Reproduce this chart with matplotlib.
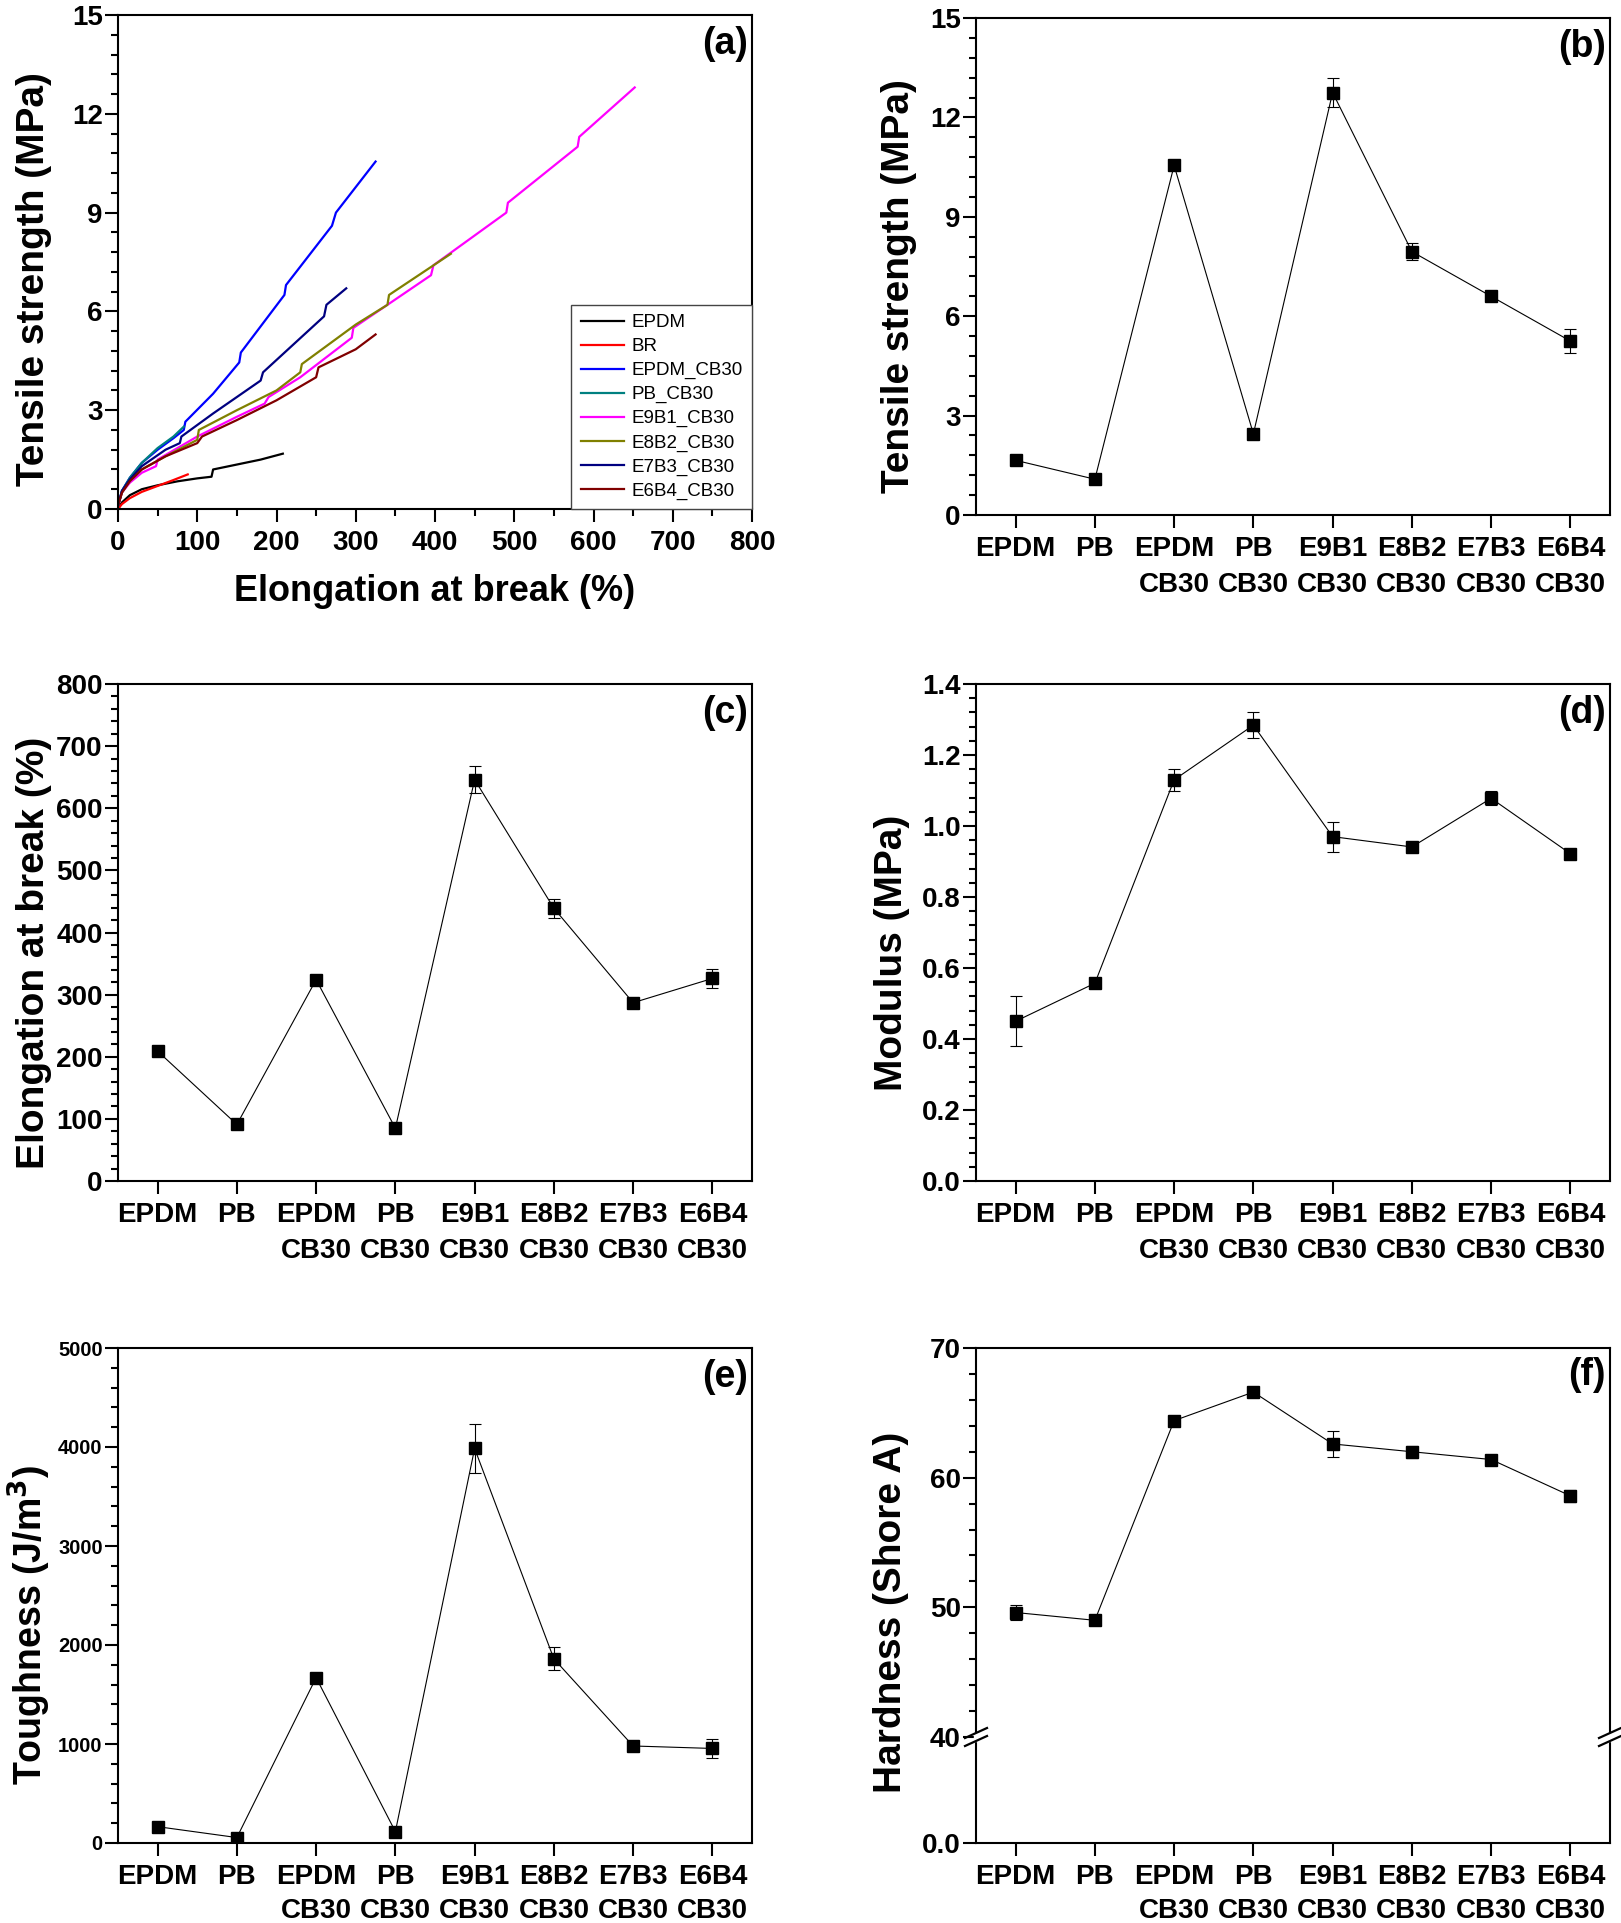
import matplotlib
matplotlib.use("Agg")
import matplotlib.pyplot as plt
from matplotlib.ticker import AutoMinorLocator
import numpy as np

# ---------------- data ----------------
samples = ["EPDM", "PB", "EPDM\nCB30", "PB\nCB30", "E9B1\nCB30", "E8B2\nCB30", "E7B3\nCB30", "E6B4\nCB30"]

tensile = [1.65, 1.08, 10.55, 2.45, 12.75, 7.95, 6.60, 5.25]
tensile_err = [0.08, 0.06, 0.15, 0.15, 0.45, 0.25, 0.08, 0.35]

elong = [209, 91, 324, 85, 646, 439, 287, 326]
elong_err = [6, 5, 6, 5, 22, 15, 5, 16]

modulus = [0.450, 0.557, 1.130, 1.284, 0.970, 0.941, 1.078, 0.922]
modulus_err = [0.07, 0.005, 0.03, 0.037, 0.042, 0.01, 0.02, 0.01]

tough = [165, 55, 1670, 115, 3985, 1860, 980, 955]
tough_err = [20, 10, 30, 15, 250, 115, 25, 95]

hard = [49.6, 49.0, 64.4, 66.6, 62.6, 62.0, 61.4, 58.6]
hard_err = [0.55, 0.2, 0.35, 0.25, 1.0, 0.45, 0.35, 0.45]

# stress-strain curves (elongation %, stress MPa) for panel (a)
curve_names = ["EPDM", "BR", "EPDM_CB30", "PB_CB30", "E9B1_CB30", "E8B2_CB30", "E7B3_CB30", "E6B4_CB30"]
curve_colors = ["#000000", "#FF0000", "#0000FF", "#008080", "#FF00FF", "#808000", "#000080", "#800000"]
epdm_x = [0, 5, 15, 30, 50, 75, 100, 118, 120, 150, 180, 208]
epdm_y = [0, 0.2, 0.42, 0.6, 0.72, 0.84, 0.93, 0.98, 1.2, 1.35, 1.5, 1.68]
br_x = [0, 5, 15, 30, 50, 70, 88]
br_y = [0, 0.15, 0.33, 0.52, 0.7, 0.88, 1.05]
epdmcb_x = [0, 5, 15, 30, 50, 70, 83, 85, 120, 153, 155, 210, 212, 270, 275, 325]
epdmcb_y = [0.1, 0.55, 0.95, 1.4, 1.8, 2.15, 2.4, 2.65, 3.5, 4.45, 4.75, 6.5, 6.8, 8.6, 9.0, 10.55]
pbcb_x = [0, 5, 15, 30, 50, 70, 83]
pbcb_y = [0.1, 0.55, 0.95, 1.4, 1.85, 2.2, 2.5]
e9b1_x = [0, 5, 15, 30, 48, 50, 100, 150, 185, 190, 230, 295, 297, 340, 395, 398, 490, 492, 580, 582, 652]
e9b1_y = [0.1, 0.5, 0.8, 1.1, 1.3, 1.5, 2.2, 2.8, 3.2, 3.4, 4.0, 5.2, 5.5, 6.2, 7.1, 7.4, 9.0, 9.3, 11.0, 11.3, 12.8]
e8b2_x = [0, 5, 15, 30, 60, 100, 102, 150, 200, 230, 232, 300, 340, 342, 420]
e8b2_y = [0.1, 0.5, 0.85, 1.2, 1.6, 2.1, 2.4, 3.0, 3.6, 4.15, 4.4, 5.6, 6.2, 6.5, 7.75]
e7b3_x = [0, 5, 15, 30, 60, 78, 80, 120, 180, 183, 260, 263, 288]
e7b3_y = [0.1, 0.55, 0.9, 1.3, 1.8, 2.0, 2.2, 2.9, 3.9, 4.15, 5.85, 6.2, 6.7]
e6b4_x = [0, 5, 15, 30, 60, 100, 106, 150, 200, 250, 253, 300, 325]
e6b4_y = [0.1, 0.5, 0.85, 1.2, 1.6, 2.0, 2.2, 2.7, 3.3, 4.0, 4.3, 4.85, 5.3]
curves_x = [epdm_x, br_x, epdmcb_x, pbcb_x, e9b1_x, e8b2_x, e7b3_x, e6b4_x]
curves_y = [epdm_y, br_y, epdmcb_y, pbcb_y, e9b1_y, e8b2_y, e7b3_y, e6b4_y]

# ---------------- style ----------------
W, H = 1621, 1923
fig = plt.figure(figsize=(W / 100, H / 100), dpi=100)

FAM = ["Liberation Sans", "DejaVu Sans"]
TICKSIZE = 20
LABFONT = dict(family=FAM, weight="bold", size=28)
LETTERFONT = dict(family=FAM, weight="bold", size=27)
MS = 8.5


def axes_px(l, r, t, b):
    return fig.add_axes([l / W, 1 - b / H, (r - l) / W, (b - t) / H])


def style(ax, minor_y=5, minor_x=None, ysize=TICKSIZE):
    for s in ax.spines.values():
        s.set_linewidth(1.5)
    ax.tick_params(which="both", direction="out", top=False, right=False, width=1.5)
    ax.tick_params(which="major", length=9.5)
    ax.tick_params(axis="x", which="major", pad=5.5)
    ax.tick_params(axis="y", which="major", pad=1.5)
    ax.tick_params(which="minor", length=5)
    if minor_y:
        ax.yaxis.set_minor_locator(AutoMinorLocator(minor_y))
    if minor_x:
        ax.xaxis.set_minor_locator(AutoMinorLocator(minor_x))
    for lab in ax.get_xticklabels():
        lab.set_family(FAM)
        lab.set_weight("bold")
        lab.set_size(TICKSIZE)
    for lab in ax.get_yticklabels():
        lab.set_family(FAM)
        lab.set_weight("bold")
        lab.set_size(ysize)


def set_ylab(ax, text, xpos, ypos, size=28):
    ax.set_ylabel(text, family=FAM, weight="bold", size=size)
    ax.yaxis.set_label_coords(xpos, ypos)
    ax.yaxis.label.set_va("center")


def letter(ax, txt):
    ax.text(0.993, 0.978, txt, transform=ax.transAxes, ha="right", va="top", **LETTERFONT)


def cat_panel(ax, vals, errs, ylabel, lab, ylim, yticks, xpos, ypos, fmt=None, ysize=TICKSIZE, ls=1.53,
              labsize=28):
    x = np.arange(len(samples))
    ax.errorbar(x, vals, yerr=errs, fmt="s-", color="black", ms=MS, lw=0.8,
                elinewidth=0.8, capsize=4.5, capthick=0.8, mfc="black", mec="black")
    ax.set_xlim(-0.5, len(samples) - 0.5)
    ax.set_ylim(*ylim)
    ax.set_yticks(yticks)
    if fmt:
        ax.set_yticklabels([fmt.format(v) for v in yticks])
    ax.set_xticks(x)
    ax.set_xticklabels(samples, linespacing=ls)
    style(ax, ysize=ysize)
    set_ylab(ax, ylabel, xpos, ypos, labsize)
    letter(ax, lab)


# ---------------- (a) ----------------
axa = axes_px(118, 752, 15, 509)
for xs, ys, name, c in zip(curves_x, curves_y, curve_names, curve_colors):
    axa.plot(xs, ys, color=c, lw=1.6, label=name)
axa.set_xlim(0, 800)
axa.set_ylim(0, 15)
axa.set_xticks(np.arange(0, 801, 100))
axa.set_yticks(np.arange(0, 16, 3))
style(axa, minor_y=5, minor_x=2)
axa.set_xlabel("Elongation at break (%)", family=FAM, weight="bold", size=26)
axa.xaxis.set_label_coords(0.5, -0.168)
axa.xaxis.label.set_va("center")
set_ylab(axa, "Tensile strength (MPa)", -0.132, 0.465)
letter(axa, "(a)")
leg = axa.legend(loc="lower right", borderaxespad=0.0, fancybox=False, framealpha=1,
                 edgecolor="#444444", handlelength=2.3, labelspacing=0.36, handletextpad=0.4,
                 borderpad=0.5, prop=dict(family=FAM, size=13.5))
leg.get_frame().set_linewidth(1.0)

# ---------------- (b) ----------------
axb = axes_px(976, 1610, 18, 515)
cat_panel(axb, tensile, tensile_err, "Tensile strength (MPa)", "(b)", (0, 15), np.arange(0, 16, 3),
          -0.121, 0.46)

# ---------------- (c) ----------------
axc = axes_px(118, 752, 684, 1181)
cat_panel(axc, elong, elong_err, "Elongation at break (%)", "(c)", (0, 800), np.arange(0, 801, 100),
          -0.132, 0.46)

# ---------------- (d) ----------------
axd = axes_px(976, 1610, 684, 1181)
cat_panel(axd, modulus, modulus_err, "Modulus (MPa)", "(d)", (0, 1.4), np.arange(0, 1.41, 0.2),
          -0.132, 0.46, fmt="{:.1f}")

# ---------------- (e) ----------------
axe = axes_px(118, 752, 1348, 1843)
cat_panel(axe, tough, tough_err, "Toughness (J/m$^{\\mathbf{3}}$)", "(e)", (0, 5000),
          np.arange(0, 5001, 1000), -0.14, 0.44, ysize=14.5, ls=1.42, labsize=27)

# ---------------- (f) broken axis ----------------
brk = 1737
axf = axes_px(976, 1610, 1348, brk)
axf2 = axes_px(976, 1610, brk, 1843)
x = np.arange(len(samples))
axf.errorbar(x, hard, yerr=hard_err, fmt="s-", color="black", ms=MS, lw=0.8,
             elinewidth=0.8, capsize=4.5, capthick=0.8)
for a in (axf, axf2):
    a.set_xlim(-0.5, len(samples) - 0.5)
axf.set_ylim(40, 70)
axf.set_yticks([40, 50, 60, 70])
axf.set_xticks([])
axf.spines["bottom"].set_visible(False)
style(axf, minor_y=5)
axf.tick_params(axis="x", which="both", bottom=False, labelbottom=False)
letter(axf, "(f)")

axf2.set_ylim(0, 10)
axf2.set_yticks([0])
axf2.set_yticklabels(["0.0"])
axf2.set_xticks(x)
axf2.set_xticklabels(samples, linespacing=1.42)
axf2.spines["top"].set_visible(False)
style(axf2, minor_y=None)
fig.text(891 / W, 1 - 1612 / H, "Hardness (Shore A)", rotation=90, ha="center", va="center", **LABFONT)

# break marks
for xf in (976, 1610):
    fig.patches.append(plt.Rectangle(((xf - 2) / W, 1 - (brk + 4) / H), 4 / W, 8 / H,
                                     transform=fig.transFigure, color="white", zorder=5))
    for dy in (-4, 4):
        fig.lines.append(plt.Line2D([(xf - 11) / W, (xf + 11) / W],
                                    [1 - (brk + dy + 5) / H, 1 - (brk + dy - 5) / H],
                                    transform=fig.transFigure, color="black", lw=1.6, zorder=6))

fig.savefig("out.png", dpi=100)
